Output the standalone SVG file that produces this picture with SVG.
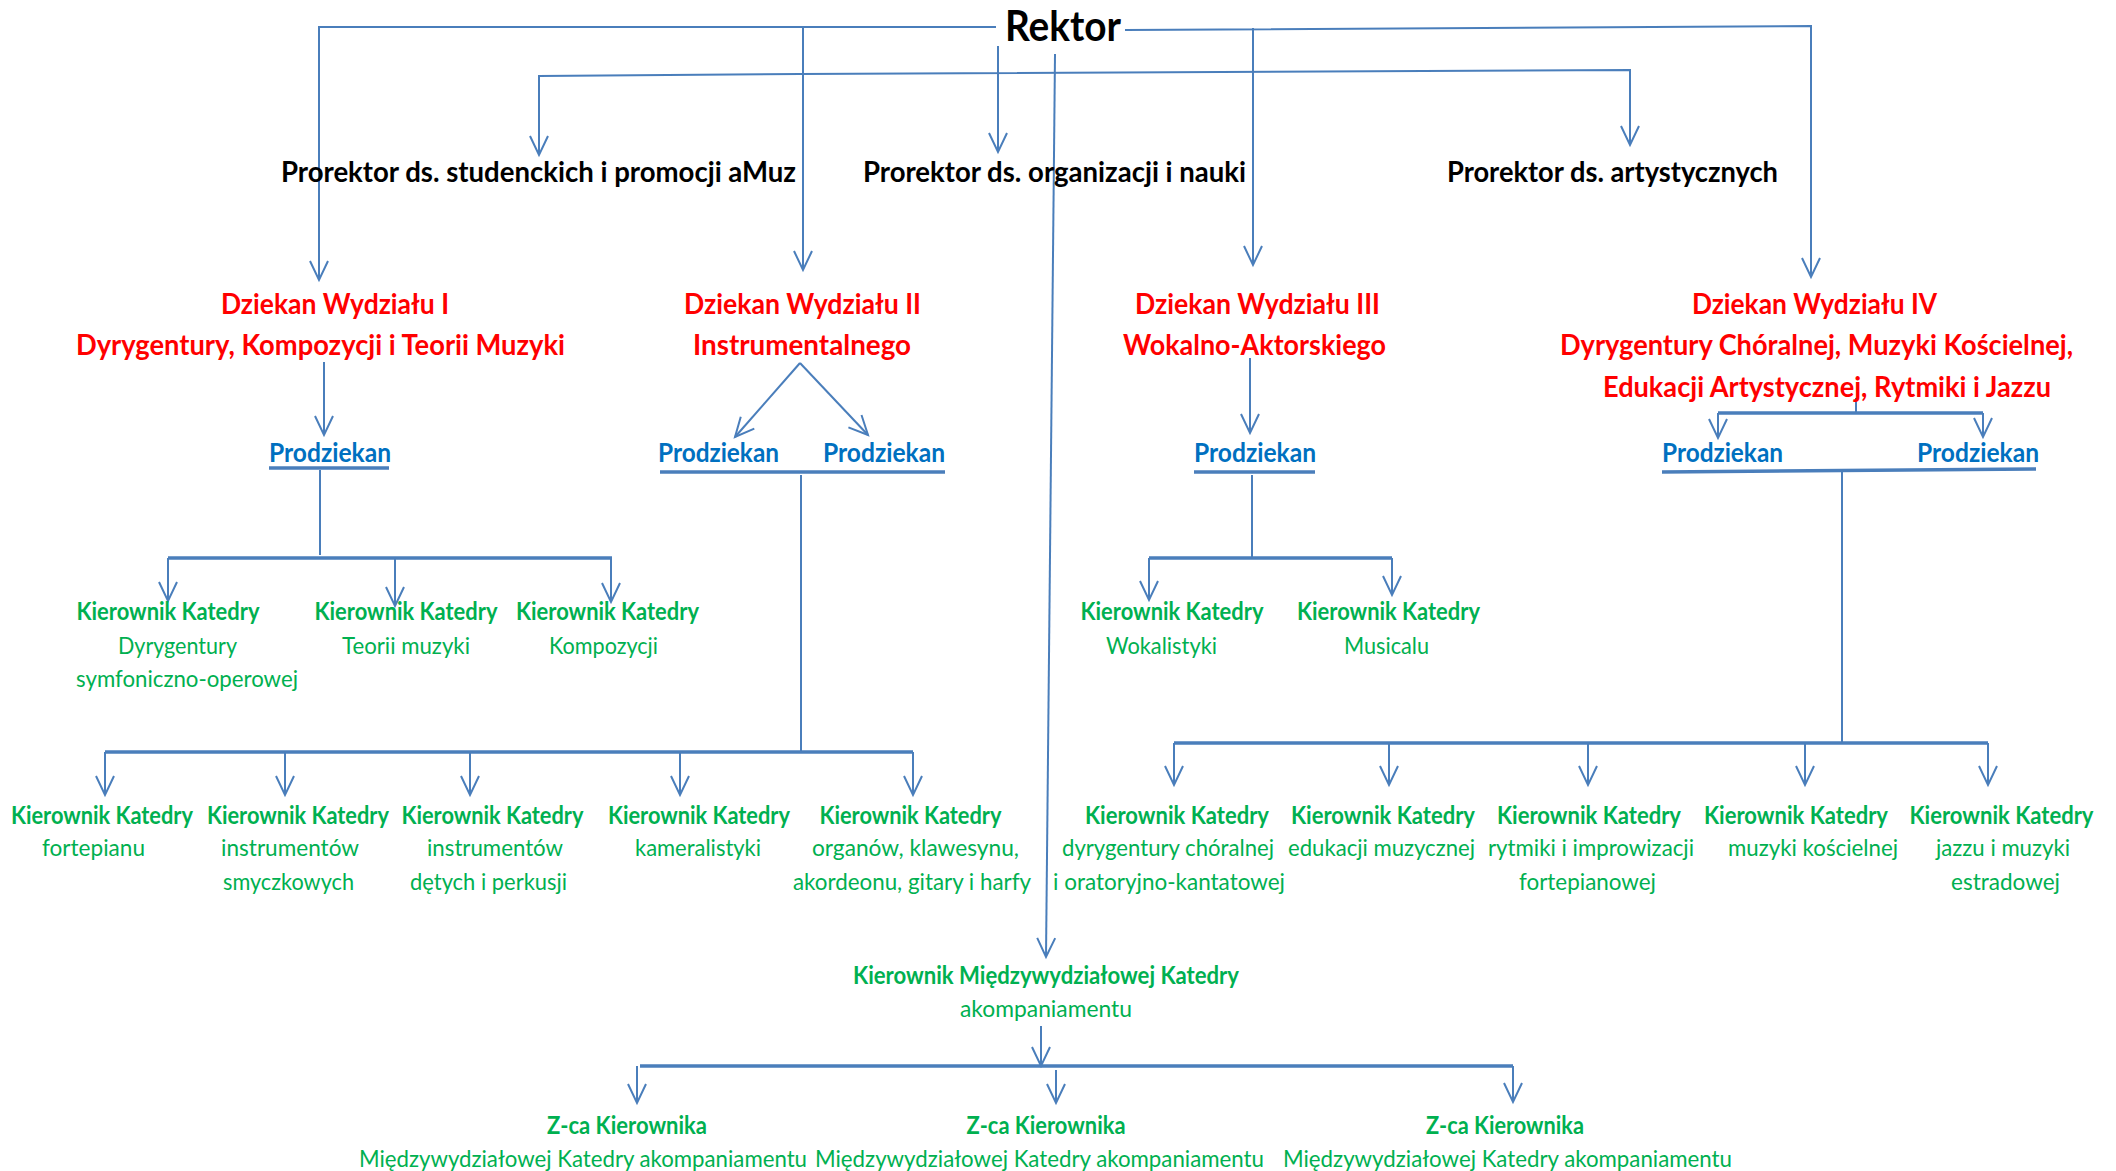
<svg xmlns="http://www.w3.org/2000/svg" width="2116" height="1171" viewBox="0 0 2116 1171">
<style>
text{font-family:Lato,"Open Sans","Liberation Sans",sans-serif;text-anchor:middle}
.rk{font-size:42px;font-weight:700;fill:#000}
.pr{font-size:29px;font-weight:700;fill:#000}
.dz{font-size:29px;font-weight:700;fill:#FF0000}
.pd{font-size:26px;font-weight:700;fill:#0070C0}
.kb{font-size:24px;font-weight:700;fill:#00B050}
.kr{font-size:24px;font-weight:400;fill:#00B050}
.c{fill:none;stroke:#4A7EBB;stroke-width:2}
.b{fill:none;stroke:#4A7EBB;stroke-width:3.5}
.a{marker-end:url(#ar)}
</style>
<defs>
<marker id="ar" markerUnits="userSpaceOnUse" orient="auto" refX="0" refY="0" markerWidth="20" markerHeight="20" overflow="visible">
<path d="M-19,-9 L0,0 L-19,9" fill="none" stroke="#4A7EBB" stroke-width="2"/>
</marker>
</defs>
<rect width="2116" height="1171" fill="#fff"/>
<g id="connectors">
<path class="c a" d="M996,27 H319 V280"/>
<path class="c a" d="M803,27 V270"/>
<path class="c a" d="M1125,30 L1811,26 V277"/>
<path class="c a" d="M1253,28 V265"/>
<path class="c a" d="M998,46 V152"/>
<path class="c a" d="M800,74 L539,76 V155"/>
<path class="c a" d="M800,74 L1630,70 V145"/>
<path class="c a" d="M1055,54 L1046,957"/>
<path class="c a" d="M324,362 V435"/>
<path class="b" d="M269,468 H389"/>
<path class="c" d="M320,470 V555"/>
<path class="b" d="M168,558 H612"/>
<path class="c a" d="M168,558 V601"/>
<path class="c a" d="M395,558 V606"/>
<path class="c a" d="M611,558 V602"/>
<path class="c a" d="M800,363 L735,437"/>
<path class="c a" d="M800,363 L868,435"/>
<path class="b" d="M660,472 H945"/>
<path class="c" d="M801,475 V752"/>
<path class="b" d="M105,752 H913"/>
<path class="c a" d="M105,752 V795"/>
<path class="c a" d="M285,752 V795"/>
<path class="c a" d="M470,752 V795"/>
<path class="c a" d="M680,752 V795"/>
<path class="c a" d="M913,752 V795"/>
<path class="c a" d="M1250,358 V433"/>
<path class="b" d="M1194,472 H1315"/>
<path class="c" d="M1252,475 V557"/>
<path class="b" d="M1149,558 H1392"/>
<path class="c a" d="M1149,558 V600"/>
<path class="c a" d="M1392,558 V595"/>
<path class="c" d="M1856,398 V413"/>
<path class="b" d="M1718,413 H1983"/>
<path class="c a" d="M1718,413 V438"/>
<path class="c a" d="M1983,413 V437"/>
<path class="b" d="M1662,472 L2036,469"/>
<path class="c" d="M1842,472 V743"/>
<path class="b" d="M1174,743 H1988"/>
<path class="c a" d="M1174,743 V785"/>
<path class="c a" d="M1389,743 V785"/>
<path class="c a" d="M1588,743 V785"/>
<path class="c a" d="M1805,743 V785"/>
<path class="c a" d="M1988,743 V785"/>
<path class="c a" d="M1041,1026 V1066"/>
<path class="b" d="M640,1066 H1513"/>
<path class="c a" d="M637,1066 V1103"/>
<path class="c a" d="M1056,1070 V1103"/>
<path class="c a" d="M1513,1066 V1102"/>
</g>
<g id="rektor"><text class="rk" x="1063" y="40.5" textLength="116" lengthAdjust="spacingAndGlyphs">Rektor</text></g>
<g id="prorektor-studenckich"><text class="pr" x="538.5" y="181.5" textLength="515" lengthAdjust="spacingAndGlyphs">Prorektor ds. studenckich i promocji aMuz</text></g>
<g id="prorektor-organizacji"><text class="pr" x="1054.5" y="181.5" textLength="383" lengthAdjust="spacingAndGlyphs">Prorektor ds. organizacji i nauki</text></g>
<g id="prorektor-artystycznych"><text class="pr" x="1612.5" y="181.5" textLength="331" lengthAdjust="spacingAndGlyphs">Prorektor ds. artystycznych</text></g>
<g id="dziekan-1">
<text class="dz" x="335" y="313.5" textLength="228" lengthAdjust="spacingAndGlyphs">Dziekan Wydziału I</text>
<text class="dz" x="320.5" y="354.5" textLength="489" lengthAdjust="spacingAndGlyphs">Dyrygentury, Kompozycji i Teorii Muzyki</text>
</g>
<g id="dziekan-2">
<text class="dz" x="802.5" y="313.5" textLength="237" lengthAdjust="spacingAndGlyphs">Dziekan Wydziału II</text>
<text class="dz" x="802" y="354.5" textLength="218" lengthAdjust="spacingAndGlyphs">Instrumentalnego</text>
</g>
<g id="dziekan-3">
<text class="dz" x="1257.5" y="313.5" textLength="245" lengthAdjust="spacingAndGlyphs">Dziekan Wydziału III</text>
<text class="dz" x="1254.5" y="354.5" textLength="263" lengthAdjust="spacingAndGlyphs">Wokalno-Aktorskiego</text>
</g>
<g id="dziekan-4">
<text class="dz" x="1814.5" y="313.5" textLength="245" lengthAdjust="spacingAndGlyphs">Dziekan Wydziału IV</text>
<text class="dz" x="1816.5" y="354.5" textLength="513" lengthAdjust="spacingAndGlyphs">Dyrygentury Chóralnej, Muzyki Kościelnej,</text>
<text class="dz" x="1827" y="396.5" textLength="448" lengthAdjust="spacingAndGlyphs">Edukacji Artystycznej, Rytmiki i Jazzu</text>
</g>
<g id="prodziekan-1"><text class="pd" x="330" y="461.5" textLength="122" lengthAdjust="spacingAndGlyphs">Prodziekan</text></g>
<g id="prodziekan-2a"><text class="pd" x="718.5" y="461.5" textLength="121" lengthAdjust="spacingAndGlyphs">Prodziekan</text></g>
<g id="prodziekan-2b"><text class="pd" x="884" y="461.5" textLength="122" lengthAdjust="spacingAndGlyphs">Prodziekan</text></g>
<g id="prodziekan-3"><text class="pd" x="1255" y="461.5" textLength="122" lengthAdjust="spacingAndGlyphs">Prodziekan</text></g>
<g id="prodziekan-4a"><text class="pd" x="1722.5" y="461.5" textLength="121" lengthAdjust="spacingAndGlyphs">Prodziekan</text></g>
<g id="prodziekan-4b"><text class="pd" x="1978" y="461.5" textLength="122" lengthAdjust="spacingAndGlyphs">Prodziekan</text></g>
<g id="katedra-dyrygentury-symf">
<text class="kb" x="168" y="619.5" textLength="183" lengthAdjust="spacingAndGlyphs">Kierownik Katedry</text>
<text class="kr" x="177.5" y="653.5" textLength="119" lengthAdjust="spacingAndGlyphs">Dyrygentury</text>
<text class="kr" x="187" y="686.5" textLength="222" lengthAdjust="spacingAndGlyphs">symfoniczno-operowej</text>
</g>
<g id="katedra-teorii">
<text class="kb" x="406" y="619.5" textLength="183" lengthAdjust="spacingAndGlyphs">Kierownik Katedry</text>
<text class="kr" x="406" y="653.5" textLength="128" lengthAdjust="spacingAndGlyphs">Teorii muzyki</text>
</g>
<g id="katedra-kompozycji">
<text class="kb" x="607.5" y="619.5" textLength="183" lengthAdjust="spacingAndGlyphs">Kierownik Katedry</text>
<text class="kr" x="603.5" y="653.5" textLength="109" lengthAdjust="spacingAndGlyphs">Kompozycji</text>
</g>
<g id="katedra-wokalistyki">
<text class="kb" x="1172" y="619.5" textLength="183" lengthAdjust="spacingAndGlyphs">Kierownik Katedry</text>
<text class="kr" x="1161.5" y="653.5" textLength="111" lengthAdjust="spacingAndGlyphs">Wokalistyki</text>
</g>
<g id="katedra-musicalu">
<text class="kb" x="1388.5" y="619.5" textLength="183" lengthAdjust="spacingAndGlyphs">Kierownik Katedry</text>
<text class="kr" x="1386.5" y="653.5" textLength="85" lengthAdjust="spacingAndGlyphs">Musicalu</text>
</g>
<g id="katedra-fortepianu">
<text class="kb" x="102" y="823.5" textLength="182" lengthAdjust="spacingAndGlyphs">Kierownik Katedry</text>
<text class="kr" x="93.5" y="856" textLength="103" lengthAdjust="spacingAndGlyphs">fortepianu</text>
</g>
<g id="katedra-smyczkowych">
<text class="kb" x="298" y="823.5" textLength="182" lengthAdjust="spacingAndGlyphs">Kierownik Katedry</text>
<text class="kr" x="290" y="856" textLength="138" lengthAdjust="spacingAndGlyphs">instrumentów</text>
<text class="kr" x="288.5" y="889.5" textLength="131" lengthAdjust="spacingAndGlyphs">smyczkowych</text>
</g>
<g id="katedra-detych">
<text class="kb" x="492.5" y="823.5" textLength="182" lengthAdjust="spacingAndGlyphs">Kierownik Katedry</text>
<text class="kr" x="495" y="856" textLength="136" lengthAdjust="spacingAndGlyphs">instrumentów</text>
<text class="kr" x="488.5" y="889.5" textLength="157" lengthAdjust="spacingAndGlyphs">dętych i perkusji</text>
</g>
<g id="katedra-kameralistyki">
<text class="kb" x="699" y="823.5" textLength="182" lengthAdjust="spacingAndGlyphs">Kierownik Katedry</text>
<text class="kr" x="698" y="856" textLength="126" lengthAdjust="spacingAndGlyphs">kameralistyki</text>
</g>
<g id="katedra-organow">
<text class="kb" x="910.5" y="823.5" textLength="182" lengthAdjust="spacingAndGlyphs">Kierownik Katedry</text>
<text class="kr" x="915.5" y="856" textLength="207" lengthAdjust="spacingAndGlyphs">organów, klawesynu,</text>
<text class="kr" x="912" y="889.5" textLength="238" lengthAdjust="spacingAndGlyphs">akordeonu, gitary i harfy</text>
</g>
<g id="katedra-dyrygentury-choralnej">
<text class="kb" x="1177" y="823.5" textLength="184" lengthAdjust="spacingAndGlyphs">Kierownik Katedry</text>
<text class="kr" x="1168" y="856" textLength="212" lengthAdjust="spacingAndGlyphs">dyrygentury chóralnej</text>
<text class="kr" x="1169" y="889.5" textLength="232" lengthAdjust="spacingAndGlyphs">i oratoryjno-kantatowej</text>
</g>
<g id="katedra-edukacji">
<text class="kb" x="1383" y="823.5" textLength="184" lengthAdjust="spacingAndGlyphs">Kierownik Katedry</text>
<text class="kr" x="1381.5" y="856" textLength="187" lengthAdjust="spacingAndGlyphs">edukacji muzycznej</text>
</g>
<g id="katedra-rytmiki">
<text class="kb" x="1589" y="823.5" textLength="184" lengthAdjust="spacingAndGlyphs">Kierownik Katedry</text>
<text class="kr" x="1591" y="856" textLength="206" lengthAdjust="spacingAndGlyphs">rytmiki i improwizacji</text>
<text class="kr" x="1587.5" y="889.5" textLength="137" lengthAdjust="spacingAndGlyphs">fortepianowej</text>
</g>
<g id="katedra-muzyki-koscielnej">
<text class="kb" x="1796" y="823.5" textLength="184" lengthAdjust="spacingAndGlyphs">Kierownik Katedry</text>
<text class="kr" x="1813" y="856" textLength="170" lengthAdjust="spacingAndGlyphs">muzyki kościelnej</text>
</g>
<g id="katedra-jazzu">
<text class="kb" x="2001.5" y="823.5" textLength="184" lengthAdjust="spacingAndGlyphs">Kierownik Katedry</text>
<text class="kr" x="2003" y="856" textLength="134" lengthAdjust="spacingAndGlyphs">jazzu i muzyki</text>
<text class="kr" x="2005.5" y="889.5" textLength="109" lengthAdjust="spacingAndGlyphs">estradowej</text>
</g>
<g id="katedra-akompaniamentu">
<text class="kb" x="1046" y="984" textLength="386" lengthAdjust="spacingAndGlyphs">Kierownik Międzywydziałowej Katedry</text>
<text class="kr" x="1046" y="1016.5" textLength="172" lengthAdjust="spacingAndGlyphs">akompaniamentu</text>
</g>
<g id="zca-1">
<text class="kb" x="627" y="1134" textLength="160" lengthAdjust="spacingAndGlyphs">Z-ca Kierownika</text>
<text class="kr" x="583" y="1167" textLength="448" lengthAdjust="spacingAndGlyphs">Międzywydziałowej Katedry akompaniamentu</text>
</g>
<g id="zca-2">
<text class="kb" x="1046" y="1134" textLength="159" lengthAdjust="spacingAndGlyphs">Z-ca Kierownika</text>
<text class="kr" x="1039.5" y="1167" textLength="449" lengthAdjust="spacingAndGlyphs">Międzywydziałowej Katedry akompaniamentu</text>
</g>
<g id="zca-3">
<text class="kb" x="1505" y="1134" textLength="158" lengthAdjust="spacingAndGlyphs">Z-ca Kierownika</text>
<text class="kr" x="1507.5" y="1167" textLength="449" lengthAdjust="spacingAndGlyphs">Międzywydziałowej Katedry akompaniamentu</text>
</g>
</svg>
